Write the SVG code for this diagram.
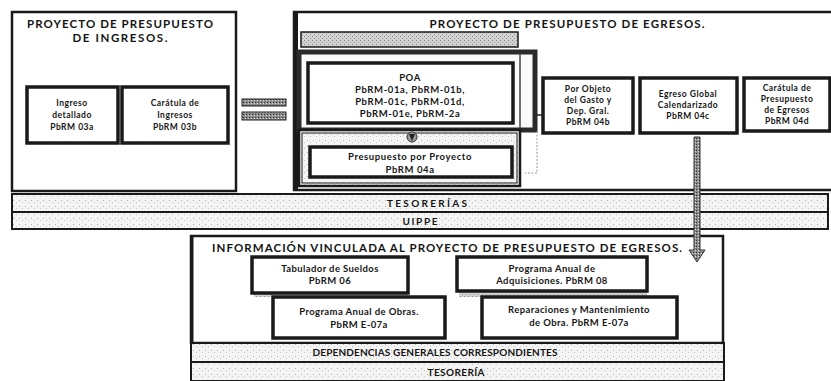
<svg xmlns="http://www.w3.org/2000/svg" width="831" height="381" viewBox="0 0 831 381">
<style>
.t{font-family:Lato,"Open Sans","Liberation Sans",sans-serif;fill:#151515;text-anchor:middle}
.h{font-size:11.5px;font-weight:700}
.k{font-size:10px;font-weight:700}
.b{font-size:8.5px;font-weight:700;letter-spacing:0.5px}
.l{font-size:9.5px;font-weight:700;letter-spacing:0.4px}
.m{font-size:9.5px;font-weight:700;letter-spacing:0.6px}
.frame{fill:#fff;stroke:#1a1a1a;stroke-width:2.5}
.box{fill:#fff;stroke:#1a1a1a;stroke-width:3.5}
.bar{fill:url(#grain);stroke:#1a1a1a;stroke-width:2}
.gray{fill:url(#grainD);stroke:#1a1a1a;stroke-width:1.5}
.conn{fill:none;stroke:#222;stroke-width:1.5}
</style>
<defs>
<pattern id="grain" width="6" height="6" patternUnits="userSpaceOnUse">
<rect width="6" height="6" fill="#f4f4f4"/>
<rect x="1" y="2" width="1" height="1" fill="#b0b0b0"/>
<rect x="4" y="4" width="1" height="1" fill="#c4c4c4"/>
</pattern>
<pattern id="grainD" width="4" height="4" patternUnits="userSpaceOnUse">
<rect width="4" height="4" fill="#d2d2d2"/>
<rect x="0" y="0" width="1" height="1" fill="#8a8a8a"/>
<rect x="2" y="2" width="1" height="1" fill="#999"/>
</pattern>
<pattern id="grainE" width="3" height="3" patternUnits="userSpaceOnUse">
<rect width="3" height="3" fill="#8c8c8c"/>
<rect x="0" y="0" width="1" height="1" fill="#333"/>
<rect x="2" y="1" width="1" height="1" fill="#ddd"/>
</pattern>
</defs>

<g id="ingresos">
<rect class="frame" x="12" y="12" width="224" height="179"/>
<text class="t h" x="120" y="28" textLength="186">PROYECTO DE PRESUPUESTO</text>
<text class="t h" x="120" y="42" textLength="95">DE INGRESOS.</text>
</g>
<g id="ingreso-detallado">
<rect class="box" x="27" y="87" width="91" height="56"/>
<text class="t b" x="72" y="106">Ingreso</text>
<text class="t b" x="72" y="118">detallado</text>
<text class="t b" x="72" y="130">PbRM 03a</text>
</g>
<g id="caratula-ingresos">
<rect class="box" x="122" y="87" width="106" height="56"/>
<text class="t b" x="175" y="106">Carátula de</text>
<text class="t b" x="175" y="118">Ingresos</text>
<text class="t b" x="175" y="130">PbRM 03b</text>
</g>

<g id="igual">
<rect x="242" y="99" width="44" height="7" fill="url(#grainE)" stroke="#222" stroke-width="1"/>
<rect x="242" y="112" width="44" height="8" fill="url(#grainE)" stroke="#222" stroke-width="1"/>
</g>

<g id="egresos">
<rect class="frame" x="294" y="12" width="545" height="178"/>
<line x1="296" y1="12" x2="296" y2="190" stroke="#1a1a1a" stroke-width="4"/>
<text class="t h" x="567" y="28" textLength="275">PROYECTO DE PRESUPUESTO DE EGRESOS.</text>
<rect class="gray" x="301" y="32" width="217" height="15"/>
</g>
<g id="poa-contenedor">
<rect x="299" y="52" width="236" height="78" fill="#fafafa" stroke="#2a2a2a" stroke-width="5"/>
<line x1="520" y1="54" x2="520" y2="128" stroke="#444" stroke-width="1.5"/>
<rect x="299" y="130" width="221" height="56" fill="url(#grain)" stroke="#1a1a1a" stroke-width="2.5"/>
<rect x="302" y="133" width="215" height="50" fill="none" stroke="#1a1a1a" stroke-width="1"/>
</g>
<g id="poa">
<rect class="box" x="308" y="63" width="205" height="60"/>
<text class="t m" x="410" y="81">POA</text>
<text class="t m" x="410" y="93">PbRM-01a, PbRM-01b,</text>
<text class="t m" x="410" y="105">PbRM-01c, PbRM-01d,</text>
<text class="t m" x="410" y="117">PbRM-01e, PbRM-2a</text>
</g>
<g id="presupuesto-proyecto">
<rect class="box" x="310" y="147" width="202" height="30"/>
<text class="t m" x="410" y="160">Presupuesto por Proyecto</text>
<text class="t m" x="410" y="173">PbRM 04a</text>
</g>
<g id="por-objeto">
<rect class="box" x="543" y="78" width="90" height="55"/>
<text class="t b" x="588" y="92">Por Objeto</text>
<text class="t b" x="588" y="103">del Gasto y</text>
<text class="t b" x="588" y="114">Dep. Gral.</text>
<text class="t b" x="588" y="125">PbRM 04b</text>
</g>
<g id="egreso-global">
<rect class="box" x="640" y="78" width="97" height="55"/>
<text class="t b" x="688" y="97">Egreso Global</text>
<text class="t b" x="688" y="108">Calendarizado</text>
<text class="t b" x="688" y="119">PbRM 04c</text>
</g>
<g id="caratula-egresos">
<rect class="box" x="744" y="78" width="86" height="53"/>
<text class="t b" x="787" y="91">Carátula de</text>
<text class="t b" x="787" y="102">Presupuesto</text>
<text class="t b" x="787" y="113">de Egresos</text>
<text class="t b" x="787" y="124">PbRM 04d</text>
</g>

<g id="tesorerias">
<rect class="bar" x="12" y="194" width="816" height="18"/>
<text class="t k" x="427" y="207" textLength="80">TESORERÍAS</text>
</g>
<g id="uippe">
<rect class="bar" x="12" y="212" width="816" height="17"/>
<text class="t k" x="420" y="225" textLength="35">UIPPE</text>
</g>

<g id="informacion">
<rect class="frame" x="191" y="236" width="532" height="107"/>
<line x1="192" y1="236" x2="192" y2="343" stroke="#1a1a1a" stroke-width="3"/>
<text class="t h" x="447" y="252" textLength="470">INFORMACIÓN VINCULADA AL PROYECTO DE PRESUPUESTO DE EGRESOS.</text>
</g>
<g id="tabulador">
<rect x="254" y="292" width="154" height="5" fill="url(#grainD)"/>
<rect class="box" x="252" y="257" width="156" height="36"/>
<text class="t l" x="330" y="272">Tabulador de Sueldos</text>
<text class="t l" x="330" y="284">PbRM 06</text>
</g>
<g id="adquisiciones">
<rect x="459" y="291" width="188" height="6" fill="url(#grainD)"/>
<rect class="box" x="457" y="257" width="190" height="34"/>
<text class="t l" x="552" y="272">Programa Anual de</text>
<text class="t l" x="552" y="284">Adquisiciones. PbRM 08</text>
</g>
<g id="obras">
<rect class="box" x="273" y="297" width="172" height="41"/>
<text class="t l" x="359" y="315">Programa Anual de Obras.</text>
<text class="t l" x="359" y="328">PbRM E-07a</text>
</g>
<g id="reparaciones">
<rect class="box" x="482" y="297" width="195" height="41"/>
<text class="t l" x="579" y="313">Reparaciones y Mantenimiento</text>
<text class="t l" x="579" y="326">de Obra.  PbRM E-07a</text>
</g>

<g id="dependencias">
<rect class="bar" x="191" y="343" width="533" height="19"/>
<text class="t k" x="435" y="356" textLength="245">DEPENDENCIAS GENERALES CORRESPONDIENTES</text>
</g>
<g id="tesoreria">
<rect class="bar" x="191" y="362" width="533" height="19"/>
<text class="t k" x="456" y="376" textLength="57">TESORERÍA</text>
</g>

<g id="conectores">
<line class="conn" x1="537" y1="115" x2="543" y2="115"/>
<polyline points="537,131 537,173 525,173" fill="none" stroke="#999" stroke-width="1" stroke-dasharray="2 1.5"/>
<circle cx="412" cy="137" r="5" fill="#9a9a9a" stroke="#333" stroke-width="1"/>
<path d="M409,134 L415,134 L412,141 Z" fill="#222"/>
<path d="M694,137 L700,137 L700,250 L705,250 L697,262 L689,250 L694,250 Z" fill="url(#grainE)" stroke="#333" stroke-width="1"/>
</g>
</svg>
